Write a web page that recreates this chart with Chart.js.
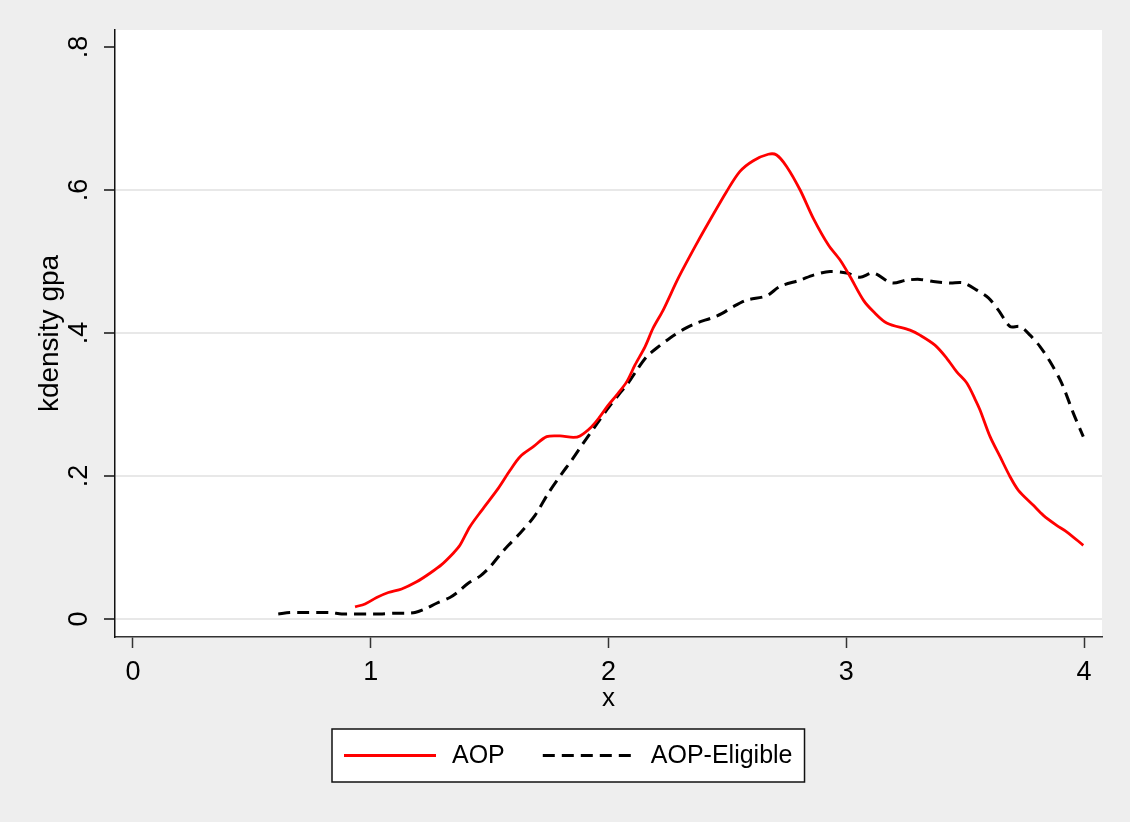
<!DOCTYPE html>
<html>
<head>
<meta charset="utf-8">
<script src="https://cdn.jsdelivr.net/npm/chart.js@4"></script>
<style>
  html, body { margin: 0; padding: 0; background: #eeeeee; }
  #wrap { width: 1130px; height: 822px; }
</style>
</head>
<body>
<div id="wrap"><canvas id="kdChart" width="1130" height="822"></canvas></div>
<script>
// kernel density of gpa
const aopX = [0.934, 0.976, 1.025, 1.074, 1.130, 1.193, 1.249, 1.298, 1.347, 1.375, 1.417, 1.467, 1.537, 1.586,
  1.628, 1.684, 1.740, 1.796, 1.852, 1.880, 1.929, 1.964, 1.999, 2.034, 2.077, 2.111, 2.154, 2.188, 2.230, 2.294,
  2.371, 2.427, 2.497, 2.553, 2.609, 2.672, 2.707, 2.749, 2.806, 2.862, 2.925, 2.974, 3.016, 3.072, 3.114, 3.170,
  3.268, 3.310, 3.373, 3.422, 3.464, 3.507, 3.541, 3.563, 3.605, 3.647, 3.689, 3.724, 3.787, 3.829, 3.885, 3.927, 3.997];
const aopY = [0.017, 0.021, 0.030, 0.037, 0.042, 0.052, 0.064, 0.076, 0.092, 0.103, 0.129, 0.152, 0.183, 0.208,
  0.227, 0.241, 0.255, 0.256, 0.254, 0.256, 0.269, 0.283, 0.299, 0.313, 0.332, 0.355, 0.381, 0.407, 0.432, 0.477,
  0.525, 0.558, 0.598, 0.626, 0.641, 0.650, 0.649, 0.633, 0.600, 0.560, 0.523, 0.502, 0.479, 0.446, 0.430, 0.414,
  0.404, 0.397, 0.383, 0.365, 0.346, 0.330, 0.308, 0.292, 0.255, 0.227, 0.199, 0.180, 0.159, 0.145, 0.131, 0.122, 0.103];

const eligX = [0.611, 0.660, 0.715, 0.773, 0.829, 0.878, 0.927, 0.983, 1.039, 1.095, 1.151, 1.186, 1.228, 1.277,
  1.333, 1.368, 1.410, 1.460, 1.502, 1.544, 1.579, 1.628, 1.691, 1.747, 1.803, 1.845, 1.894, 1.943, 1.992, 2.041,
  2.083, 2.119, 2.161, 2.203, 2.259, 2.315, 2.371, 2.434, 2.476, 2.525, 2.581, 2.665, 2.721, 2.806, 2.862, 2.932,
  3.002, 3.058, 3.114, 3.191, 3.254, 3.310, 3.366, 3.436, 3.493, 3.549, 3.598, 3.640, 3.689, 3.731, 3.773, 3.815,
  3.857, 3.906, 3.955, 3.997];
const eligY = [0.007, 0.009, 0.009, 0.009, 0.009, 0.007, 0.007, 0.007, 0.007, 0.008, 0.008, 0.009, 0.014, 0.022,
  0.030, 0.038, 0.050, 0.060, 0.073, 0.090, 0.103, 0.120, 0.145, 0.176, 0.203, 0.222, 0.246, 0.269, 0.292, 0.313,
  0.330, 0.348, 0.367, 0.379, 0.393, 0.405, 0.414, 0.421, 0.427, 0.437, 0.446, 0.452, 0.465, 0.474, 0.481, 0.486,
  0.484, 0.478, 0.484, 0.470, 0.474, 0.475, 0.472, 0.470, 0.470, 0.460, 0.449, 0.432, 0.409, 0.409, 0.397, 0.381,
  0.360, 0.330, 0.288, 0.255];

const seriesNames = ['AOP', 'AOP-Eligible'];
const xTicks = [0, 1, 2, 3, 4];
const yTicks = [0, 0.2, 0.4, 0.6, 0.8];
const xTitle = 'x';
const yTitle = 'kdensity gpa';

const FONT = '"Liberation Sans", Arial, sans-serif';

const toPoints = (xs, ys) => xs.map((x, i) => ({ x: x, y: ys[i] }));

// grey page, white plot region
const backdrop = {
    id: 'backdrop',
    beforeDraw(chart) {
        const { ctx, chartArea: a } = chart;
        ctx.save();
        ctx.fillStyle = '#eeeeee';
        ctx.fillRect(0, 0, chart.width, chart.height);
        ctx.fillStyle = '#ffffff';
        ctx.fillRect(a.left, a.top, a.right - a.left, a.bottom - a.top);
        ctx.restore();
    }
};

// boxed legend under the x title, like stata
const boxLegend = {
    id: 'boxLegend',
    afterDraw(chart) {
        const ctx = chart.ctx;
        const sample = 92, gapText = 16, gapItem = 38, padX = 12, boxH = 53;
        ctx.save();
        ctx.font = '25px ' + FONT;
        const items = chart.data.datasets.map(ds => ({ ds: ds, w: ctx.measureText(ds.label).width }));
        let total = padX * 2 + gapItem * (items.length - 1);
        items.forEach(it => { total += sample + gapText + it.w; });
        const left = Math.round(chart.width / 2 - total / 2) + 3;
        const top = chart.chartArea.bottom + 92;
        ctx.fillStyle = '#ffffff';
        ctx.fillRect(left, top, total, boxH);
        ctx.strokeStyle = '#111111';
        ctx.lineWidth = 1.5;
        ctx.strokeRect(left, top, total, boxH);
        const midY = top + boxH / 2;
        let x = left + padX;
        items.forEach(it => {
            ctx.beginPath();
            ctx.setLineDash(it.ds.borderDash || []);
            ctx.strokeStyle = it.ds.borderColor;
            ctx.lineWidth = it.ds.borderWidth;
            ctx.moveTo(x, midY);
            ctx.lineTo(x + sample, midY);
            ctx.stroke();
            ctx.setLineDash([]);
            x += sample + gapText;
            ctx.fillStyle = '#000000';
            ctx.textBaseline = 'middle';
            ctx.textAlign = 'left';
            ctx.fillText(it.ds.label, x, midY + 1);
            x += it.w + gapItem;
        });
        ctx.restore();
    }
};

const ctx = document.getElementById('kdChart').getContext('2d');
new Chart(ctx, {
    type: 'line',
    data: {
        datasets: [{
            label: seriesNames[0],
            data: toPoints(aopX, aopY),
            borderColor: '#ff0000',
            borderWidth: 2.8,
            pointRadius: 0,
            tension: 0.3,
            fill: false
        }, {
            label: seriesNames[1],
            data: toPoints(eligX, eligY),
            borderColor: '#000000',
            borderWidth: 3,
            borderDash: [12, 7],
            pointRadius: 0,
            tension: 0.3,
            fill: false
        }]
    },
    options: {
        responsive: false,
        animation: false,
        layout: { padding: { top: 30, right: 28, left: 0, bottom: 95 } },
        plugins: {
            legend: { display: false },
            tooltip: { enabled: false }
        },
        scales: {
            x: {
                type: 'linear',
                min: -0.0757,
                max: 4.0757,
                afterBuildTicks: s => { s.ticks = xTicks.map(v => ({ value: v })); },
                afterFit: s => { s.height = 90; },
                ticks: {
                    color: '#000',
                    font: { family: FONT, size: 27 },
                    padding: 8,
                    maxRotation: 0,
                    callback: v => String(v)
                },
                grid: {
                    drawOnChartArea: false,
                    drawTicks: true,
                    tickLength: 11,
                    tickColor: '#333',
                    tickWidth: 1.5
                },
                border: { color: '#333', width: 1.5 },
                title: {
                    display: true,
                    text: xTitle,
                    color: '#000',
                    font: { family: FONT, size: 26 },
                    padding: { top: 0, bottom: 13 }
                }
            },
            y: {
                min: -0.0252,
                max: 0.8238,
                afterBuildTicks: s => { s.ticks = yTicks.map(v => ({ value: v })); },
                afterFit: s => { s.width = 115; },
                ticks: {
                    color: '#000',
                    font: { family: FONT, size: 27 },
                    padding: 13,
                    minRotation: 90,
                    maxRotation: 90,
                    crossAlign: 'center',
                    callback: v => v === 0 ? '0' : String(v).replace(/^0/, '')
                },
                grid: {
                    color: c => (c.tick && c.tick.value === 0.8) ? 'rgba(0,0,0,0)' : '#e8e8e8',
                    lineWidth: 2,
                    drawTicks: true,
                    tickLength: 11,
                    tickColor: '#111',
                    tickWidth: 1.5
                },
                border: { color: '#111', width: 1.5 },
                title: {
                    display: true,
                    text: yTitle,
                    color: '#000',
                    font: { family: FONT, size: 28 },
                    padding: { top: 33, bottom: 0 }
                }
            }
        }
    },
    plugins: [backdrop, boxLegend]
});
</script>
</body>
</html>
